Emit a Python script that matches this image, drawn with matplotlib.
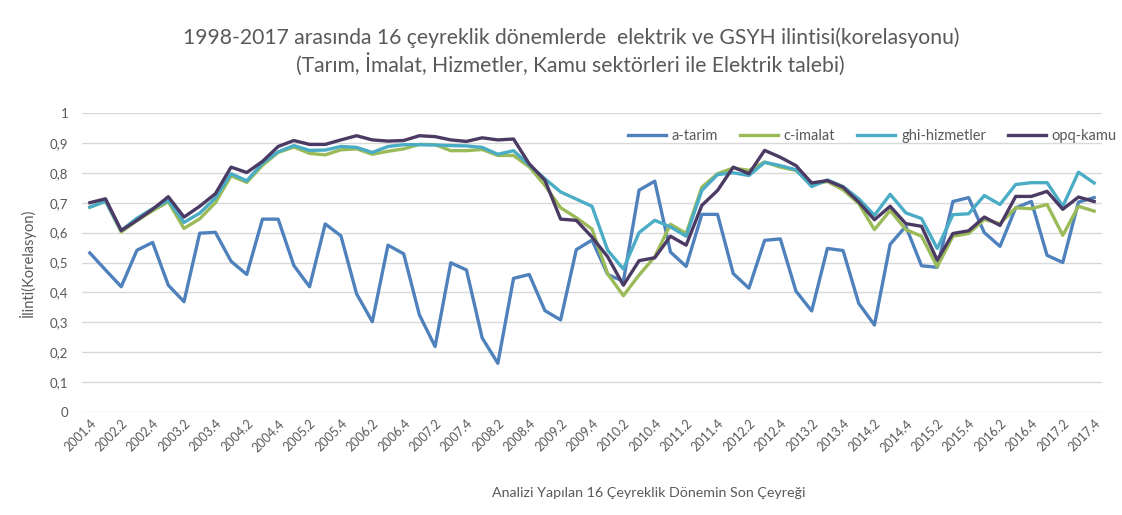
import matplotlib
matplotlib.use("Agg")
import matplotlib.pyplot as plt
import numpy as np

plt.rcParams['font.family'] = ['Lato', 'DejaVu Sans']

quarters = [f"{y}.{q}" for y in range(2001, 2018) for q in (1, 2, 3, 4)][3:]

a_tarim = [0.532, 0.475, 0.419, 0.541, 0.567, 0.424, 0.369, 0.598, 0.601, 0.504,
           0.460, 0.645, 0.645, 0.490, 0.419, 0.629, 0.589, 0.395, 0.302, 0.558,
           0.529, 0.325, 0.219, 0.499, 0.475, 0.248, 0.163, 0.447, 0.460, 0.339,
           0.308, 0.543, 0.575, 0.460, 0.437, 0.742, 0.772, 0.535, 0.487, 0.661,
           0.661, 0.463, 0.414, 0.574, 0.579, 0.404, 0.338, 0.547, 0.540, 0.363,
           0.291, 0.561, 0.621, 0.489, 0.484, 0.704, 0.717, 0.600, 0.554, 0.683,
           0.704, 0.524, 0.500, 0.702, 0.717]
c_imalat = [0.685, 0.705, 0.602, 0.640, 0.673, 0.703, 0.614, 0.646, 0.700, 0.790,
            0.768, 0.825, 0.868, 0.886, 0.865, 0.860, 0.877, 0.880, 0.862, 0.872,
            0.880, 0.895, 0.894, 0.874, 0.874, 0.878, 0.858, 0.858, 0.820, 0.758,
            0.683, 0.650, 0.612, 0.462, 0.389, 0.458, 0.519, 0.628, 0.597, 0.752,
            0.797, 0.816, 0.808, 0.836, 0.819, 0.808, 0.761, 0.771, 0.743, 0.697,
            0.610, 0.674, 0.610, 0.588, 0.486, 0.588, 0.597, 0.644, 0.630, 0.683,
            0.680, 0.694, 0.591, 0.688, 0.672]
ghi_hizmetler = [0.685, 0.705, 0.607, 0.648, 0.680, 0.708, 0.634, 0.665, 0.716, 0.797,
                 0.773, 0.832, 0.870, 0.891, 0.875, 0.876, 0.888, 0.885, 0.868, 0.888,
                 0.894, 0.894, 0.893, 0.891, 0.890, 0.885, 0.862, 0.874, 0.826, 0.780,
                 0.736, 0.712, 0.688, 0.541, 0.478, 0.600, 0.641, 0.619, 0.588, 0.741,
                 0.794, 0.800, 0.791, 0.835, 0.824, 0.810, 0.754, 0.776, 0.754, 0.713,
                 0.658, 0.728, 0.666, 0.647, 0.547, 0.660, 0.663, 0.724, 0.694, 0.761,
                 0.767, 0.767, 0.688, 0.802, 0.766]
opq_kamu = [0.700, 0.713, 0.607, 0.641, 0.678, 0.720, 0.652, 0.688, 0.730, 0.819,
            0.801, 0.838, 0.888, 0.908, 0.895, 0.895, 0.910, 0.924, 0.910, 0.906,
            0.908, 0.924, 0.921, 0.910, 0.905, 0.917, 0.910, 0.913, 0.830, 0.775,
            0.645, 0.641, 0.585, 0.519, 0.424, 0.506, 0.516, 0.588, 0.558, 0.691,
            0.741, 0.819, 0.797, 0.875, 0.852, 0.824, 0.766, 0.774, 0.752, 0.702,
            0.643, 0.688, 0.630, 0.621, 0.508, 0.597, 0.606, 0.652, 0.624, 0.721,
            0.721, 0.738, 0.678, 0.719, 0.704]

series_names = ["a-tarim", "c-imalat", "ghi-hizmetler", "opq-kamu"]
series_values = [a_tarim, c_imalat, ghi_hizmetler, opq_kamu]
colors = ["#4F81BD", "#9BBB59", "#4BACC6", "#4B3A63"]

yticks = [0, 0.1, 0.2, 0.3, 0.4, 0.5, 0.6, 0.7, 0.8, 0.9, 1.0]
ytick_labels = ["0", "0,1", "0,2", "0,3", "0,4", "0,5", "0,6", "0,7", "0,8", "0,9", "1"]

gray = "#595959"
fig = plt.figure(figsize=(11.22, 5.15), dpi=100)
ax = fig.add_axes([82/1122, 1 - 412/515, 1020/1122, 299/515])

x = np.arange(len(quarters))
for name, vals, c in zip(series_names, series_values, colors):
    ax.plot(x, vals, color=c, lw=2.4, label=name, solid_joinstyle='round')

ax.set_xlim(-0.5, len(quarters) - 0.5)
ax.set_ylim(0, 1)
ax.set_yticks(yticks)
ax.set_yticklabels(ytick_labels, color=gray, fontsize=9.5)
ax.set_xticks(x[::2])
ax.set_xticklabels(quarters[::2], rotation=45, ha='right', va='top',
                   rotation_mode='anchor', color=gray, fontsize=9)
ax.tick_params(axis='both', length=0)
ax.tick_params(axis='y', pad=10)
ax.tick_params(axis='x', pad=4)
for s in ax.spines.values():
    s.set_visible(False)
ax.grid(axis='y', color='#D9D9D9', lw=1)
ax.set_axisbelow(True)

ax.set_ylabel("İlinti(Korelasyon)", color=gray, fontsize=10.5, labelpad=10)

leg = ax.legend(loc='upper left', bbox_to_anchor=(533/1020, 0.99), ncol=4, frameon=False,
                fontsize=10.5, handlelength=2.6, columnspacing=1.5, handletextpad=0.4)
for t in leg.get_texts():
    t.set_color(gray)

fig.text(571/1122, 1 - 38/515, "1998-2017 arasında 16 çeyreklik dönemlerde  elektrik ve GSYH ilintisi(korelasyonu)",
         ha='center', va='center', fontsize=15.2, color=gray)
fig.text(570/1122, 1 - 64/515, "(Tarım, İmalat, Hizmetler, Kamu sektörleri ile Elektrik talebi)",
         ha='center', va='center', fontsize=15.2, color=gray)
fig.text(649/1122, 1 - 493/515, "Analizi Yapılan 16 Çeyreklik Dönemin Son Çeyreği",
         ha='center', va='center', fontsize=10.3, color=gray)

fig.savefig("out.png", dpi=100)
